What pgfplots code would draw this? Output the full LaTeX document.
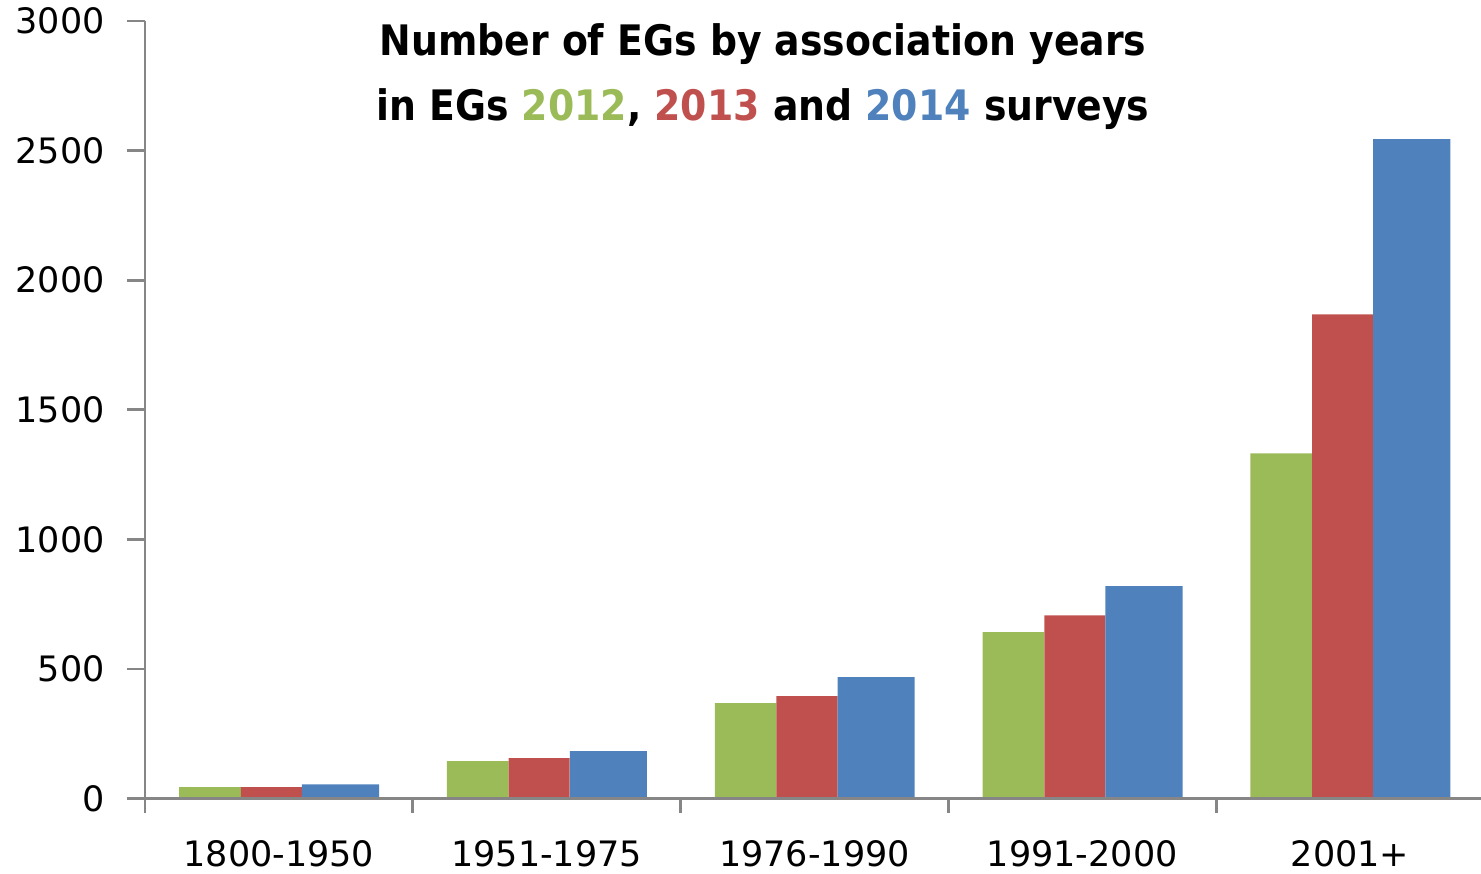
\documentclass[border=0pt]{standalone}
\usepackage{fontspec}
\setmainfont{DejaVu Sans}
\newfontfamily\titlefont[FakeStretch=0.9]{DejaVu Sans}
\usepackage{pgfplots}
\pgfplotsset{compat=1.18}
\definecolor{cg}{RGB}{155,187,89}
\definecolor{cr}{RGB}{192,80,77}
\definecolor{cb}{RGB}{79,129,189}
\definecolor{ax}{RGB}{134,134,134}
\begin{document}
\begin{tikzpicture}
\begin{axis}[
  scale only axis, width=669.5pt, height=388.75pt,
  xmin=-0.5, xmax=4.5, ymin=0, ymax=3000,
  axis x line*=bottom, axis y line*=left,
  axis line style={ax, line width=1.35pt, -},
  axis on top,
  xtick={-0.5,0.5,1.5,2.5,3.5,4.5},
  x tick label as interval,
  xticklabels={1800-1950,1951-1975,1976-1990,1991-2000,2001+},
  ytick={0,500,...,3000},
  tick align=outside, major tick length=9pt,
  tick style={ax, line width=1.35pt},
  xtick style={/pgfplots/major tick length=7.3pt},
  /pgf/number format/assume math mode=true,
  /pgf/number format/1000 sep={},
  scaled y ticks=false,
  ticklabel style={font=\fontsize{17.5}{20}\selectfont, text=black, inner sep=0pt},
  xticklabel style={anchor=north, yshift=-12pt},
  yticklabel style={anchor=east, xshift=-11pt},
]
\addplot[ybar, bar width=0.230, bar shift=-0.2573, fill=cg, draw=none] coordinates {(0,44) (1,144) (2,368) (3,642) (4,1332)};
\addplot[ybar, bar width=0.228, bar shift=-0.0281, fill=cr, draw=none] coordinates {(0,44) (1,156) (2,395) (3,707) (4,1868)};
\addplot[ybar, bar width=0.288, bar shift=0.2302, fill=cb, draw=none] coordinates {(0,55) (1,183) (2,468) (3,819) (4,2544)};
\node[anchor=north, inner sep=0pt, align=center, font=\titlefont\bfseries\fontsize{21}{32.5}\selectfont] at (rel axis cs:0.4615,0.997)
  {Number of EGs by association years\\in EGs \textcolor{cg}{2012}, \textcolor{cr}{2013} and \textcolor{cb}{2014} surveys};
\end{axis}
\pgfresetboundingbox
\path ([shift={(-72.5pt,-37.25pt)}]current axis.south west) rectangle ([shift={(-1.5pt,10.5pt)}]current axis.north east);
\end{tikzpicture}
\end{document}
